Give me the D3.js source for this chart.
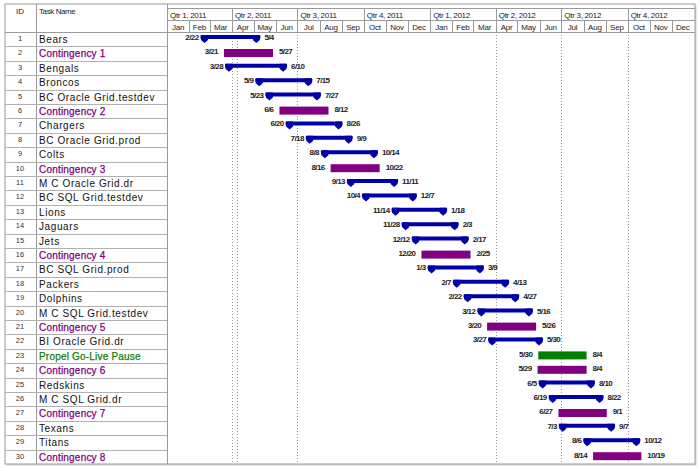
<!DOCTYPE html>
<html><head><meta charset="utf-8">
<script src="https://cdn.jsdelivr.net/npm/d3@7"></script>
<style>body{margin:0;background:#fff}svg{display:block}text{font-family:"Liberation Sans",Arial,sans-serif}</style>
</head><body>
<svg id="c" width="700" height="468"></svg>
<script>
const ids = d3.range(1, 31);
const taskNames = ["Bears","Contingency 1","Bengals","Broncos","BC Oracle Grid.testdev","Contingency 2","Chargers","BC Oracle Grid.prod","Colts","Contingency 3","M C Oracle Grid.dr","BC SQL Grid.testdev","Lions","Jaguars","Jets","Contingency 4","BC SQL Grid.prod","Packers","Dolphins","M C SQL Grid.testdev","Contingency 5","BI Oracle Grid.dr","Propel Go-Live Pause","Contingency 6","Redskins","M C SQL Grid.dr","Contingency 7","Texans","Titans","Contingency 8"];
const taskTypes = ["task","cont","task","task","task","cont","task","task","task","cont","task","task","task","task","task","cont","task","task","task","task","cont","task","pause","cont","task","task","cont","task","task","cont"];
const startDates = ["2011-02-22","2011-03-21","2011-03-28","2011-05-09","2011-05-23","2011-06-06","2011-06-20","2011-07-18","2011-08-08","2011-08-16","2011-09-13","2011-10-04","2011-11-14","2011-11-28","2011-12-12","2011-12-20","2012-01-03","2012-02-07","2012-02-22","2012-03-12","2012-03-20","2012-03-27","2012-05-30","2012-05-29","2012-06-05","2012-06-19","2012-06-27","2012-07-03","2012-08-06","2012-08-14"];
const endDates = ["2011-05-04","2011-05-27","2011-06-10","2011-07-15","2011-07-27","2011-08-12","2011-08-26","2011-09-09","2011-10-14","2011-10-22","2011-11-11","2011-12-07","2012-01-18","2012-02-03","2012-02-17","2012-02-25","2012-03-09","2012-04-13","2012-04-27","2012-05-16","2012-05-26","2012-05-30","2012-08-04","2012-08-04","2012-08-10","2012-08-22","2012-09-01","2012-09-07","2012-10-12","2012-10-19"];
const quarterLabels = ["Qtr 1, 2011","Qtr 2, 2011","Qtr 3, 2011","Qtr 4, 2011","Qtr 1, 2012","Qtr 2, 2012","Qtr 3, 2012","Qtr 4, 2012"];
const monthLabels = ["Jan","Feb","Mar","Apr","May","Jun","Jul","Aug","Sep","Oct","Nov","Dec"];
const gridDates = ["2011-04-01","2011-04-08","2011-07-01","2012-04-01","2012-07-01","2012-10-01"];

const parse = d3.timeParse("%Y-%m-%d");
const fmt = d => (d.getMonth()+1) + "/" + d.getDate();
const tasks = ids.map((id,i)=>({id, name:taskNames[i], type:taskTypes[i], s:parse(startDates[i]), e:d3.timeDay.offset(parse(endDates[i]),1), eLabel:parse(endDates[i])}));

const svg = d3.select("#c");
const L = 5, R = 695, T = 4, B = 464, idX = 36, nameX = 167, headB = 32;
const x = d3.scaleTime().domain([new Date(2011,0,1), new Date(2013,0,1)]).range([nameX, 694]);
const y = d3.scaleBand().domain(ids).range([headB, B]);
const colors = {task:"#0000a8", cont:"#800080", pause:"#008000"};
const textColors = {task:"#111", cont:"#800080", pause:"#108010"};

// frame
svg.append("rect").attr("x",L+1.5).attr("y",T+1.5).attr("width",R-L).attr("height",B-T).attr("fill","#d8d8d8");
svg.append("rect").attr("x",L).attr("y",T).attr("width",R-L).attr("height",B-T).attr("fill","#fff").attr("stroke","#9a9a9a");

// dotted gridlines
svg.append("g").selectAll("line").data(gridDates).join("line")
  .attr("x1",d=>Math.round(x(parse(d)))+0.5).attr("x2",d=>Math.round(x(parse(d)))+0.5)
  .attr("y1",headB).attr("y2",B).attr("stroke","#999").attr("stroke-dasharray","1,2");

// timeline header
const qStarts = d3.timeMonth.every(3).range(new Date(2011,0,1), new Date(2013,0,1));
const mStarts = d3.timeMonth.range(new Date(2011,0,1), new Date(2013,0,1));
const hdr = svg.append("g");
hdr.append("line").attr("x1",nameX).attr("x2",R).attr("y1",8.5).attr("y2",8.5).attr("stroke","#9a9a9a");
hdr.append("line").attr("x1",nameX).attr("x2",R).attr("y1",20.5).attr("y2",20.5).attr("stroke","#9a9a9a");
hdr.append("line").attr("x1",L).attr("x2",R).attr("y1",headB+0.5).attr("y2",headB+0.5).attr("stroke","#9a9a9a");
hdr.selectAll(".q").data(qStarts).join("line")
  .attr("x1",d=>Math.round(x(d))+0.5).attr("x2",d=>Math.round(x(d))+0.5).attr("y1",8.5).attr("y2",headB).attr("stroke","#9a9a9a");
hdr.selectAll(".m").data(mStarts).join("line")
  .attr("x1",d=>Math.round(x(d))+0.5).attr("x2",d=>Math.round(x(d))+0.5).attr("y1",20.5).attr("y2",headB).attr("stroke","#9a9a9a");
hdr.selectAll(".qt").data(qStarts).join("text")
  .attr("x",d=>x(d)+3).attr("y",18).attr("font-size",8).attr("letter-spacing",-0.3).attr("fill","#222")
  .text((d,i)=>quarterLabels[i]);
hdr.selectAll(".mt").data(mStarts).join("text")
  .attr("x",d=>(x(d)+x(d3.timeMonth.offset(d,1)))/2).attr("y",30).attr("text-anchor","middle")
  .attr("font-size",8).attr("letter-spacing",-0.2).attr("fill","#222")
  .text(d=>monthLabels[d.getMonth()]);

// left table
const tbl = svg.append("g");
tbl.append("line").attr("x1",idX+0.5).attr("x2",idX+0.5).attr("y1",T).attr("y2",B).attr("stroke","#9a9a9a");
tbl.append("line").attr("x1",nameX+0.5).attr("x2",nameX+0.5).attr("y1",T).attr("y2",B).attr("stroke","#9a9a9a");
tbl.append("text").attr("x",20).attr("y",14).attr("text-anchor","middle").attr("font-size",8).attr("fill","#222").text("ID");
tbl.append("text").attr("x",39).attr("y",14).attr("font-size",8).attr("letter-spacing",-0.4).attr("fill","#222").text("Task Name");
tbl.selectAll(".rl").data(ids.slice(1)).join("line")
  .attr("x1",L).attr("x2",nameX).attr("y1",d=>Math.round(y(d))+0.5).attr("y2",d=>Math.round(y(d))+0.5).attr("stroke","#b0b0b0");
tbl.selectAll(".id").data(tasks).join("text")
  .attr("x",20).attr("y",d=>y(d.id)+9).attr("text-anchor","middle").attr("font-size",7.5).attr("fill","#333").text(d=>d.id);
tbl.selectAll(".nm").data(tasks).join("text")
  .attr("x",39).attr("y",d=>y(d.id)+11).attr("font-size",10).attr("letter-spacing",d=>d.type==="task"?0.6:0.2)
  .attr("fill",d=>textColors[d.type])
  .attr("stroke",d=>d.type==="task"?"none":textColors[d.type]).attr("stroke-width",0.25)
  .text(d=>d.name);

// bars
const bars = svg.append("g");
tasks.forEach(t=>{
  const top = y(t.id), x0 = x(t.s), x1 = x(t.e);
  if (t.type === "task") {
    bars.append("rect").attr("x",x0-4).attr("y",top+3).attr("width",x1-x0+8).attr("height",4).attr("rx",1).attr("fill",colors.task);
    [x0, x1].forEach(cx=>{
      bars.append("path").attr("d",`M${cx-3.5},${top+3}H${cx+3.5}V${top+8}L${cx},${top+11}L${cx-3.5},${top+8}Z`).attr("fill",colors.task);
    });
  } else {
    bars.append("rect").attr("x",x0).attr("y",top+2.6).attr("width",x1-x0).attr("height",8).attr("fill",colors[t.type]);
  }
  bars.append("text").attr("x",x0-6).attr("y",top+8).attr("text-anchor","end").attr("font-size",8).attr("font-weight","bold")
    .attr("letter-spacing",-0.6).attr("fill","#222").text(fmt(t.s));
  bars.append("text").attr("x",x1+(t.type==="task"?8:6)).attr("y",top+8).attr("font-size",8).attr("font-weight","bold")
    .attr("letter-spacing",-0.6).attr("fill","#222").text(fmt(t.eLabel));
});
</script>
</body></html>
